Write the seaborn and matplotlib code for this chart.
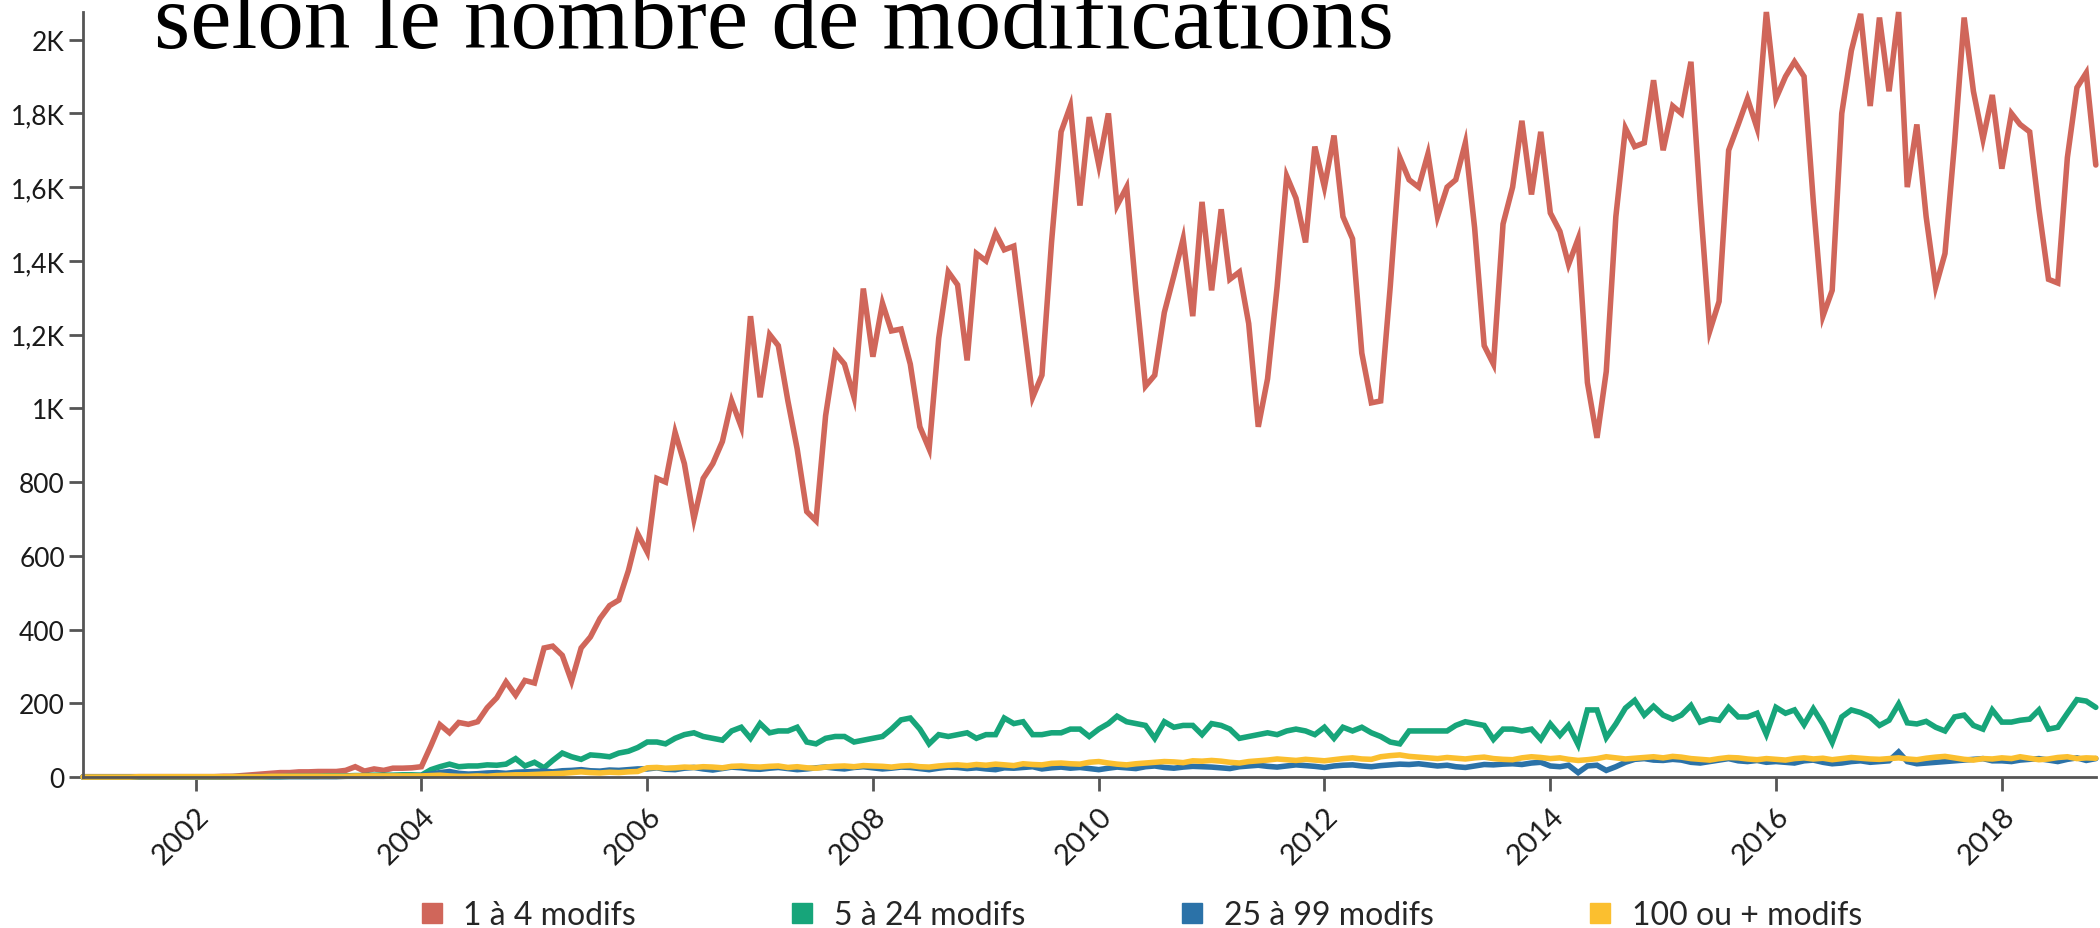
import pandas as pd
import matplotlib
matplotlib.use("Agg")
import matplotlib.pyplot as plt
import matplotlib.dates as mdates
from matplotlib.lines import Line2D
from matplotlib.ticker import FuncFormatter
import seaborn as sns

# Data (monthly, Jan 2001 -> Nov 2018)
first_month = "2001-01-01"
series_names = ["1 à 4 modifs", "5 à 24 modifs", "25 à 99 modifs", "100 ou + modifs"]
series_colors = ["#d0665a", "#17a57a", "#2b72a8", "#fbbf2f"]
title_text = "selon le nombre de modifications"

red = [
    1, 1, 1, 1, 1, 1, 1, 1, 1, 1, 1, 1,
    1, 1, 1, 2, 2, 4, 6, 8, 10, 12, 12, 14,
    14, 15, 15, 15, 18, 28, 16, 22, 18, 24, 24, 25,
    28, 85, 142, 120, 148, 143, 150, 188, 215, 258, 222, 262,
    255, 350, 355, 330, 260, 350, 380, 430, 465, 480, 560, 660,
    610, 810, 800, 935, 850, 700, 810, 850, 910, 1020, 950, 1250,
    1030, 1200, 1170, 1020, 890, 720, 695, 980, 1150, 1120, 1030, 1325,
    1140, 1285, 1210, 1215, 1120, 950, 890, 1190, 1370, 1335, 1130, 1420,
    1400, 1475, 1430, 1440, 1240, 1030, 1090, 1450, 1750, 1820, 1550, 1790,
    1660, 1800, 1550, 1600, 1320, 1060, 1090, 1260, 1360, 1460, 1250, 1560,
    1320, 1540, 1350, 1370, 1230, 950, 1080, 1330, 1630, 1570, 1450, 1710,
    1600, 1740, 1520, 1460, 1150, 1015, 1020, 1330, 1680, 1620, 1600, 1690,
    1520, 1600, 1620, 1720, 1490, 1170, 1120, 1500, 1600, 1780, 1580, 1750,
    1530, 1480, 1390, 1460, 1070, 920, 1100, 1520, 1760, 1710, 1720, 1890,
    1700, 1820, 1800, 1940, 1560, 1210, 1290, 1700, 1770, 1840, 1760, 2075,
    1840, 1900, 1940, 1900, 1560, 1250, 1320, 1800, 1970, 2070, 1820, 2060,
    1860, 2075, 1600, 1770, 1520, 1330, 1420, 1720, 2060, 1860, 1730, 1850,
    1650, 1800, 1770, 1750, 1540, 1350, 1340, 1680, 1870, 1910, 1660,
]

green = [
    0, 0, 0, 0, 0, 0, 0, 0, 0, 0, 0, 0,
    0, 0, 0, 0, 1, 1, 1, 1, 1, 1, 2, 2,
    2, 2, 3, 3, 3, 4, 4, 5, 5, 5, 6, 6,
    5, 20, 28, 35, 28, 30, 30, 33, 32, 35, 50, 30,
    40, 25, 45, 65, 55, 48, 60, 58, 55, 65, 70, 80,
    95, 95, 90, 105, 115, 120, 110, 105, 100, 125, 135, 105,
    145, 120, 125, 125, 135, 95, 90, 105, 110, 110, 95, 100,
    105, 110, 130, 155, 160, 130, 90, 115, 110, 115, 120, 105,
    115, 115, 160, 145, 150, 115, 115, 120, 120, 130, 130, 110,
    130, 145, 165, 150, 145, 140, 105, 150, 135, 140, 140, 115,
    145, 140, 130, 105, 110, 115, 120, 115, 125, 130, 125, 115,
    135, 105, 135, 125, 135, 120, 110, 95, 90, 125, 125, 125,
    125, 125, 140, 150, 145, 140, 102, 130, 130, 125, 130, 102,
    144, 113, 140, 88, 182, 182, 107, 144, 187, 208, 168, 192,
    168, 157, 168, 194, 149, 158, 154, 189, 163, 163, 173, 116,
    189, 173, 182, 142, 185, 144, 94, 163, 182, 175, 163, 140,
    154, 198, 147, 144, 151, 135, 125, 163, 168, 140, 130, 182,
    149, 149, 154, 157, 182, 130, 135, 173, 210, 206, 189,
]

blue = [
    0, 0, 0, 0, 0, 0, 0, 0, 0, 0, 0, 0,
    0, 0, 0, 0, 0, 1, 1, 1, 1, 1, 1, 1,
    1, 1, 1, 1, 2, 2, 2, 2, 2, 3, 3, 3,
    4, 8, 12, 15, 10, 8, 9, 11, 12, 10, 13, 14,
    15, 16, 14, 17, 18, 20, 17, 16, 19, 18, 20, 22,
    22, 25, 21, 20, 24, 26, 22, 19, 23, 27, 25, 22,
    21, 24, 26, 23, 20, 22, 25, 27, 24, 22, 26, 28,
    25, 22, 24, 27, 26, 23, 20, 24, 27, 26, 23, 25,
    22, 20, 25, 24, 26, 28, 22, 25, 27, 24, 26, 23,
    20, 24, 27, 25, 23, 28, 30, 26, 24, 27, 29, 28,
    27, 25, 23, 28, 30, 32, 29, 27, 30, 33, 31, 29,
    26, 30, 32, 33, 30, 28, 31, 33, 35, 34, 36, 33,
    30, 32, 28, 26, 30, 34, 33, 35, 36, 34, 38, 40,
    30, 28, 32, 12, 30, 32, 18, 28, 40, 48, 50, 46,
    45, 48, 46, 40, 38, 42, 46, 50, 44, 42, 45, 40,
    42, 40, 38, 44, 46, 40, 36, 38, 42, 44, 40, 42,
    44, 68, 42, 36, 38, 40, 42, 44, 46, 48, 50, 44,
    44, 42, 46, 48, 50, 46, 42, 48, 52, 45, 50,
]

yellow = [
    0, 0, 0, 0, 0, 0, 1, 1, 1, 1, 1, 1,
    1, 1, 1, 1, 1, 1, 1, 1, 2, 2, 2, 2,
    2, 2, 2, 2, 2, 3, 3, 3, 3, 3, 3, 3,
    3, 4, 5, 3, 2, 2, 3, 2, 4, 5, 6, 6,
    7, 8, 9, 10, 12, 14, 12, 11, 13, 12, 14, 15,
    25, 26, 24, 25, 27, 26, 28, 27, 25, 29, 30, 28,
    27, 29, 30, 26, 28, 25, 24, 27, 29, 30, 28, 31,
    30, 29, 27, 30, 31, 28, 27, 30, 32, 33, 31, 34,
    32, 35, 33, 31, 36, 34, 33, 37, 38, 36, 35, 40,
    42, 38, 35, 33, 36, 38, 40, 42, 41, 39, 44, 43,
    45, 43, 40, 38, 42, 44, 46, 49, 47, 45, 48, 46,
    44, 47, 50, 52, 49, 48, 55, 58, 60, 56, 54, 52,
    50, 53, 51, 49, 52, 54, 50, 48, 47, 52, 55, 53,
    50, 52, 48, 45, 47, 50, 55, 52, 49, 51, 53, 55,
    52, 56, 54, 50, 48, 46, 50, 53, 52, 49, 47, 50,
    48, 46, 50, 52, 49, 51, 47, 50, 53, 51, 49, 48,
    50, 52, 49, 47, 51, 54, 56, 52, 48, 46, 50, 49,
    52, 50, 55, 51, 47, 49, 53, 55, 50, 52, 51,
]

dates = pd.date_range(first_month, periods=len(red), freq="MS")
frames = []
for name, vals in zip(series_names, [red, green, blue, yellow]):
    frames.append(pd.DataFrame({"date": dates, "value": vals, "serie": name}))
df = pd.concat(frames, ignore_index=True)

sns.set_style("white")
plt.rcParams["font.family"] = ["Lato", "DejaVu Sans"]

fig = plt.figure(figsize=(21, 9.29), dpi=100)
ax = fig.add_axes([0.0395, 0.1625, 0.9585, 0.8235])

sns.lineplot(data=df, x="date", y="value", hue="serie", hue_order=series_names,
             palette=series_colors, linewidth=4.0, ax=ax, legend=False)
for ln in ax.lines:
    ln.set_clip_on(False)
    ln.set_solid_joinstyle("miter")

y_top = 2075
ax.set_ylim(0, y_top)
ax.set_xlim(dates[0], dates[-1])
ax.set_xlabel("")
ax.set_ylabel("")


def fmt_k(v, pos):
    if v >= 1000:
        s = f"{v / 1000:.1f}".rstrip("0").rstrip(".")
        return s.replace(".", ",") + "K"
    return f"{int(v)}"


ax.set_yticks(range(0, 2001, 200))
ax.yaxis.set_major_formatter(FuncFormatter(fmt_k))
ax.set_yticks([y_top], minor=True)

ax.xaxis.set_major_locator(mdates.YearLocator(2))
ax.xaxis.set_major_formatter(mdates.DateFormatter("%Y"))
ax.set_xticks([mdates.date2num(dates[0]), mdates.date2num(dates[-1])], minor=True)

for s in ["top", "right"]:
    ax.spines[s].set_visible(False)
for s in ["left", "bottom"]:
    ax.spines[s].set_color("#555555")
    ax.spines[s].set_linewidth(2)

ax.tick_params(axis="both", which="both", direction="out", length=10, width=2,
               color="#555555", labelcolor="#1a1a1a", pad=3)
ax.tick_params(axis="y", labelsize=19)
ax.tick_params(axis="x", labelsize=21, pad=8)
ax.tick_params(axis="both", which="minor", labelleft=False, labelbottom=False)
ax.tick_params(axis="both", bottom=True, left=True)
for lab in ax.get_xticklabels():
    lab.set_rotation(45)
    lab.set_ha("right")
    lab.set_rotation_mode("anchor")

fig.text(154 / 2100, 1 - 48 / 929, title_text, fontsize=67,
         family=["Liberation Serif", "DejaVu Serif"], va="baseline", ha="left", color="black")

handles = [Line2D([], [], linestyle="none", marker="s", markersize=15,
                  markerfacecolor=c, markeredgecolor=c) for c in series_colors]
fig.legend(handles, series_names, ncol=4, loc="center", bbox_to_anchor=(0.543, 0.014),
           frameon=False, handlelength=0.8, handletextpad=0.6, columnspacing=4.8,
           prop={"family": ["Lato", "DejaVu Sans"], "size": 23})

fig.savefig("out.png", dpi=100, facecolor="white")
